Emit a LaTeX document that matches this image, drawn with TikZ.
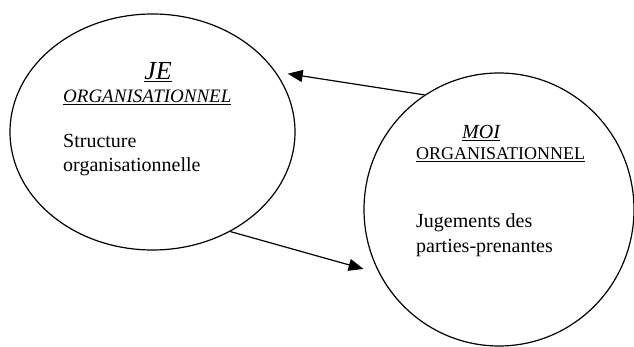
\documentclass[tikz,border=0pt]{standalone}
\usepackage{fontspec}
\setmainfont{Liberation Serif}
\usetikzlibrary{shapes.geometric,arrows.meta}

\begin{document}
\begin{tikzpicture}
        [x=1pt,y=-1pt,
         bulle/.style={ellipse,draw=black,line width=1.2pt,inner sep=0pt},
         texte/.style={anchor=base west,inner sep=0pt,font=\fontsize{20}{24}\selectfont},
         fleche/.style={line width=1.2pt,-{Triangle[length=15pt,width=12pt]}}]
        \useasboundingbox (0,0) rectangle (634,347);
        % les deux bulles
        \node[bulle,minimum width=285pt,minimum height=236pt] (je) at (152.5,132) {};
        \node[bulle,minimum width=270pt,minimum height=273pt] (moi) at (499,209.5) {};
        % JE organisationnel
        \node[texte,anchor=base,font=\fontsize{26}{30}\selectfont\itshape] (jetitre) at (158,80) {\underline{JE}};
        \node[texte,font=\fontsize{19}{23}\selectfont\itshape] (jesous) at (63,103) {\underline{ORGANISATIONNEL}};
        \node[texte] (struct) at (63,148) {Structure};
        \node[texte] (orga) at (63,172) {organisationnelle};
        % MOI organisationnel
        \node[texte,font=\fontsize{20}{24}\selectfont\itshape] (moititre) at (462,139) {\underline{MOI}};
        \node[texte,font=\fontsize{18}{22}\selectfont] (moisous) at (416,160) {\underline{ORGANISATIONNEL}};
        \node[texte] (juge) at (416,228) {Jugements des};
        \node[texte] (parties) at (416,252) {parties-prenantes};
        % les fleches
        \draw[fleche,shorten >=12pt] (moi.123) -- (je.26);
        \draw[fleche,shorten >=16pt] (je.-52) -- (moi.208);
\end{tikzpicture}
\end{document}
